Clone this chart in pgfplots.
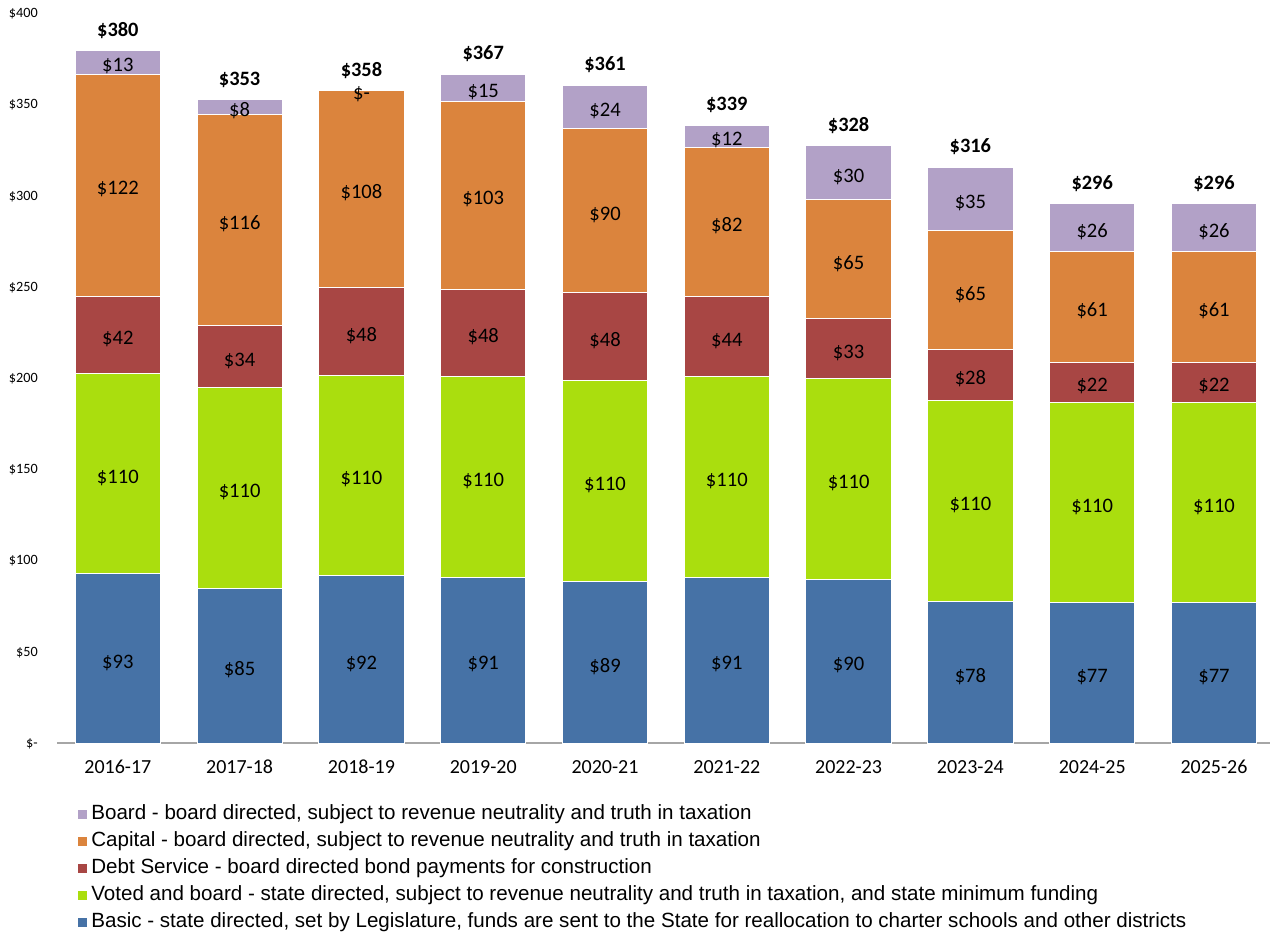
\documentclass[border=0pt]{standalone}
\usepackage{fontspec}
\setmainfont{Carlito}
\newfontfamily\arial{Liberation Sans}
\usepackage{pgfplots}
\usepackage{pgfplotstable}
\pgfplotsset{compat=1.18}
\definecolor{cbasic}{HTML}{4672A6}
\definecolor{cvoted}{HTML}{AADE0E}
\definecolor{cdebt}{HTML}{A84644}
\definecolor{ccapital}{HTML}{DB843D}
\definecolor{cboard}{HTML}{B2A1C7}
\pgfplotstableread{
x basic voted debt capital board total
0 93 110 42 122 13 380
1 85 110 34 116 8 353
2 92 110 48 108 0 358
3 91 110 48 103 15 367
4 89 110 48 90 24 361
5 91 110 44 82 12 339
6 90 110 33 65 30 328
7 78 110 28 65 35 316
8 77 110 22 61 26 296
9 77 110 22 61 26 296
}\data
\pgfplotsset{
  geom/.style={scale only axis, width=607pt, height=365pt,
    xmin=-0.5, xmax=9.46, ymin=0, ymax=400},
  seglabel/.style={draw=none, mark=none,
    nodes near coords={\ifnum\pgfplotspointmeta=0 \$-\else\$\pgfplotspointmeta\fi},
    point meta=explicit symbolic,
    every node near coord/.append style={anchor=center, text=black, yshift=-2pt,
      font=\fontsize{10.3}{12}\selectfont},
  },
}
\begin{document}
\begin{tikzpicture}
\begin{axis}[
  name=ax, geom,
  ybar stacked, bar width=0.7,
  xtick={0,...,9},
  xticklabels={2016-17,2017-18,2018-19,2019-20,2020-21,2021-22,2022-23,2023-24,2024-25,2025-26},
  ytick={0,50,...,400},
  yticklabels={\$-,\$50,\$100,\$150,\$200,\$250,\$300,\$350,\$400},
  axis lines*=left,
  x axis line style={draw=black!35, line width=1pt},
  y axis line style={draw=none},
  tick style={draw=none}, major tick length=0pt,
  xticklabel style={font=\fontsize{10}{12}\selectfont, yshift=-5pt, text height=6.6pt, text depth=0pt},
  yticklabel style={font=\fontsize{7.1}{8.5}\selectfont, xshift=-6.1pt},
  reverse legend,
  legend image code/.code={\fill[#1, draw=none] (0pt,-2.25pt) rectangle (4.5pt,2.25pt);},
  legend cell align=left,
  legend style={at={(rel axis cs:0.0173,-0.0847)}, anchor=north west,
    draw=none, fill=none, inner sep=0pt, row sep=4.5pt, column sep=2pt,
    font=\arial\fontsize{10.3}{12}\selectfont,
    nodes={inner sep=0pt, text height=7pt, text depth=2pt}},
]
\addplot[fill=cbasic, draw=white, line width=0.5pt] table[x=x, y=basic] {\data};
\addlegendentry{Basic - state directed, set by Legislature, funds are sent to the State for reallocation to charter schools and other districts}
\addplot[fill=cvoted, draw=white, line width=0.5pt] table[x=x, y=voted] {\data};
\addlegendentry{Voted and board - state directed, subject to revenue neutrality and truth in taxation, and state minimum funding}
\addplot[fill=cdebt, draw=white, line width=0.5pt] table[x=x, y=debt] {\data};
\addlegendentry{Debt Service - board directed bond payments for construction}
\addplot[fill=ccapital, draw=white, line width=0.5pt] table[x=x, y=capital] {\data};
\addlegendentry{Capital - board directed, subject to revenue neutrality and truth in taxation}
\addplot[fill=cboard, draw=white, line width=0.5pt] table[x=x, y=board] {\data};
\addlegendentry{Board - board directed, subject to revenue neutrality and truth in taxation}
\end{axis}
\begin{axis}[geom, axis lines=none, clip=false]
\addplot[seglabel] table[x=x, y expr=\thisrow{basic}/2, meta=basic] {\data};
\addplot[seglabel] table[x=x, y expr=\thisrow{basic}+\thisrow{voted}/2, meta=voted] {\data};
\addplot[seglabel] table[x=x, y expr=\thisrow{basic}+\thisrow{voted}+\thisrow{debt}/2, meta=debt] {\data};
\addplot[seglabel] table[x=x, y expr=\thisrow{basic}+\thisrow{voted}+\thisrow{debt}+\thisrow{capital}/2, meta=capital] {\data};
\addplot[seglabel] table[x=x, y expr=\thisrow{total}-\thisrow{board}/2, meta=board] {\data};
\addplot[draw=none, mark=none,
  nodes near coords={\textbf{\$\pgfplotspointmeta}},
  point meta=explicit symbolic,
  every node near coord/.append style={anchor=south, yshift=2.5pt, text=black,
    font=\fontsize{10.2}{12}\selectfont}]
  table[x=x, y=total, meta=total] {\data};
\end{axis}
\path ([shift={(-28.5pt,-94.5pt)}]ax.south west) rectangle ([shift={(0pt,7pt)}]ax.north east);
\end{tikzpicture}
\end{document}
